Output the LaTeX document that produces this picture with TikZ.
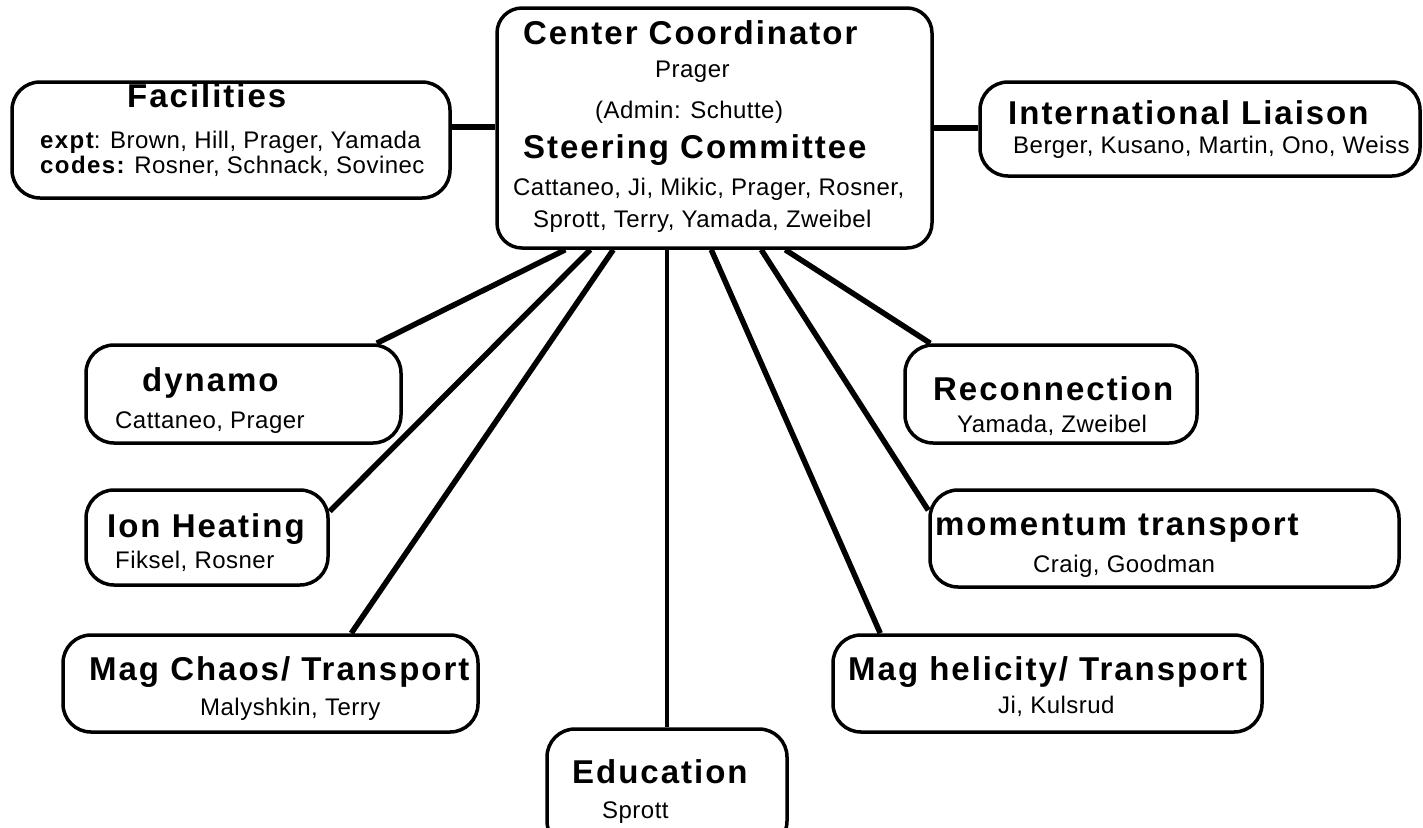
\documentclass[tikz,border=0pt]{standalone}
\usepackage{fontspec}
\setmainfont{Liberation Sans}
\newfontfamily\headfam[LetterSpace=6]{Liberation Sans}
\newfontfamily\namefam[LetterSpace=2]{Liberation Sans}
\usetikzlibrary{calc}
\tikzset{
  box/.style={draw, line width=3.5pt, rounded corners=28pt, fill=white, inner sep=0pt},
  conn/.style={line width=5.5pt},
  head/.style={anchor=base west, inner sep=0pt, font=\headfam\bfseries\fontsize{33}{33}\selectfont},
  names/.style={anchor=base west, inner sep=0pt, font=\namefam\fontsize{24}{24}\selectfont},
}
\begin{document}
\begin{tikzpicture}[x=1pt,y=-1pt]
\useasboundingbox (0,0) rectangle (1423,827);
% boxes
\node[box, minimum width=435pt, minimum height=240pt, rounded corners=25pt] (ctr) at (714.5,128) {};
\node[box, minimum width=438pt, minimum height=116pt] (fac) at (231,140) {};
\node[box, minimum width=440pt, minimum height=94pt] (intl) at (1200,129) {};
\node[box, minimum width=315pt, minimum height=98pt] (dyn) at (243.5,394) {};
\node[box, minimum width=242pt, minimum height=95pt] (ion) at (207,537.5) {};
\node[box, minimum width=415pt, minimum height=97pt] (chaos) at (270.5,683.5) {};
\node[box, minimum width=240pt, minimum height=120pt] (edu) at (667,789) {};
\node[box, minimum width=292pt, minimum height=98pt] (rec) at (1051,394) {};
\node[box, minimum width=469pt, minimum height=97pt] (mom) at (1164.5,538.5) {};
\node[box, minimum width=429pt, minimum height=97pt] (hel) at (1047.5,683.5) {};
% connectors
\draw[conn] (fac.east |- 0,127) -- (ctr.west |- 0,127);
\draw[conn] (ctr.east |- 0,128) -- (intl.west |- 0,128);
\draw[conn] ($(ctr.south west)+(70,0)$) -- ($(dyn.north east)+(-26,0)$);
\draw[conn] ($(ctr.south west)+(95,0)$) -- ($(ion.north east)+(0,23)$);
\draw[conn] ($(ctr.south west)+(118,0)$) -- ($(chaos.north west)+(290,0)$);
\draw[line width=4.5pt] (ctr.south -| edu.north) -- (edu.north);
\draw[conn] ($(ctr.south west)+(216,0)$) -- ($(hel.north west)+(49,0)$);
\draw[conn] ($(ctr.south west)+(266,0)$) -- ($(mom.north west)+(0,22)$);
\draw[conn] ($(ctr.south west)+(290,0)$) -- ($(rec.north west)+(27,0)$);
% texts: center
\node[head] (t1) at (523,44) {Center Coordinator};
\node[names] (t2) at (655,77) {Prager};
\node[names] (t3) at (595,118) {(Admin: Schutte)};
\node[head] (t4) at (523,158) {Steering Committee};
\node[names] (t5) at (513,195) {Cattaneo, Ji, Mikic, Prager, Rosner,};
\node[names] (t6) at (533,227) {Sprott, Terry, Yamada, Zweibel};
% facilities
\node[head] (f1) at (127,107) {Facilities};
\node[names] (f2) at (40,148) {{\headfam\bfseries expt}: Brown, Hill, Prager, Yamada};
\node[names] (f3) at (40,173) {{\headfam\bfseries codes:} Rosner, Schnack, Sovinec};
% international
\node[head] (i1) at (1008,124) {International Liaison};
\node[names] (i2) at (1013,153) {Berger, Kusano, Martin, Ono, Weiss};
% dynamo
\node[head] (d1) at (142,391) {dynamo};
\node[names] (d2) at (115,428) {Cattaneo, Prager};
% ion
\node[head] (h1) at (107,537) {Ion Heating};
\node[names] (h2) at (115,568) {Fiksel, Rosner};
% chaos
\node[head] (c1) at (89,680) {Mag Chaos/ Transport};
\node[names] (c2) at (200,715) {Malyshkin, Terry};
% education
\node[head] (e1) at (572,783) {Education};
\node[names] (e2) at (602,818) {Sprott};
% reconnection
\node[head] (r1) at (933,400) {Reconnection};
\node[names] (r2) at (957,432) {Yamada, Zweibel};
% momentum
\node[head] (m1) at (935,535) {momentum transport};
\node[names] (m2) at (1033,572) {Craig, Goodman};
% helicity
\node[head] (x1) at (848,680) {Mag helicity/ Transport};
\node[names] (x2) at (998,713) {Ji, Kulsrud};
\end{tikzpicture}
\end{document}
